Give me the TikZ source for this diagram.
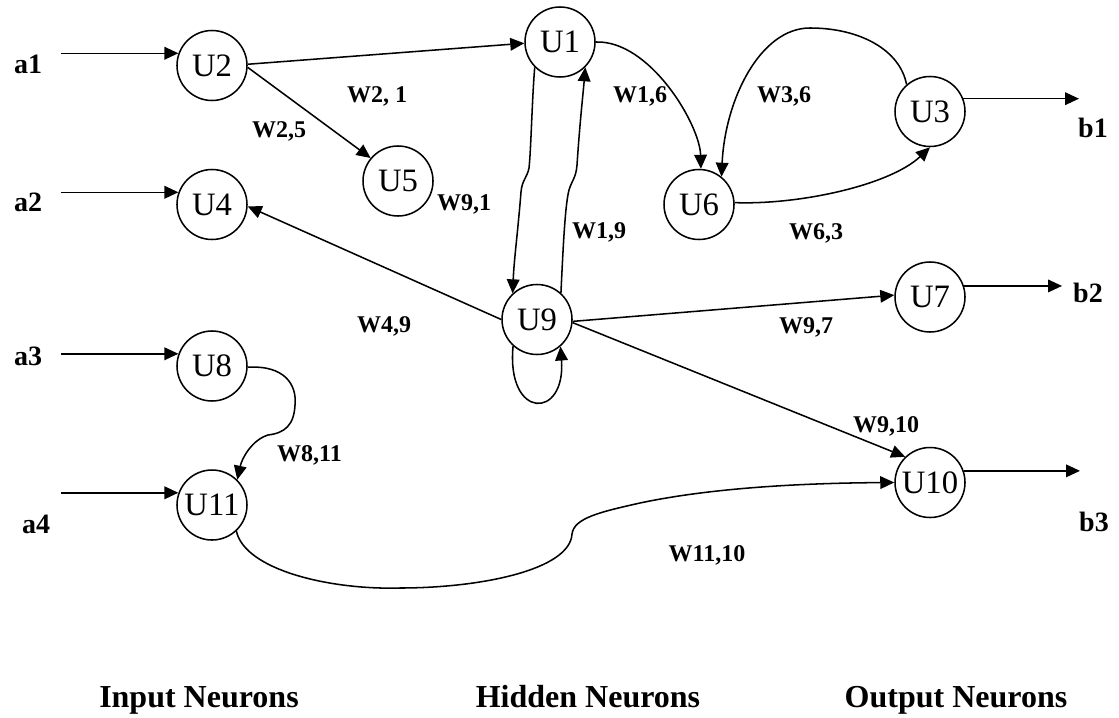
\documentclass[tikz,border=0pt]{standalone}
\usepackage{fontspec}
\setmainfont{Liberation Serif}
\usetikzlibrary{arrows.meta}
\begin{document}
\begin{tikzpicture}[x=0.75pt,y=-0.75pt,
  neuron/.style={draw,circle,line width=1.15pt,minimum size=52.5pt,inner sep=0pt,font=\fontsize{24.5}{26}\selectfont},
  conn/.style={line width=1.15pt,-{Triangle[length=10.5pt,width=9.5pt]}},
  wlab/.style={font=\fontsize{18}{20}\selectfont\bfseries,inner sep=0pt,text depth=0pt},
  iolab/.style={font=\fontsize{21}{24}\selectfont\bfseries,inner sep=0pt,text depth=0pt},
  caplab/.style={font=\fontsize{24}{26}\selectfont\bfseries,inner sep=0pt,anchor=base}]
\useasboundingbox (0,0) rectangle (1119,717);

% neurons
\node[neuron] (U2) at (212,65.5) {U2};
\node[neuron] (U4) at (212,204.5) {U4};
\node[neuron] (U8) at (212,366) {U8};
\node[neuron] (U11) at (212,505) {U11};
\node[neuron] (U5) at (398,181) {U5};
\node[neuron] (U1) at (560,42) {U1};
\node[neuron] (U9) at (537,319.5) {U9};
\node[neuron] (U6) at (699,204.5) {U6};
\node[neuron] (U3) at (930,111.5) {U3};
\node[neuron] (U7) at (930,297) {U7};
\node[neuron] (U10) at (930,482.5) {U10};

% input / output labels
\node[iolab] (la1) at (28,64) {a1};
\node[iolab] (la2) at (28,202) {a2};
\node[iolab] (la3) at (28,356) {a3};
\node[iolab] (la4) at (36,524) {a4};
\node[iolab] (lb1) at (1093,128) {b1};
\node[iolab] (lb2) at (1088,293) {b2};
\node[iolab] (lb3) at (1094,522) {b3};

% input arrows
\coordinate (inx) at (61,0);
\draw[conn] (U2.160 -| inx) -- (U2.160);
\draw[conn] (U4.160 -| inx) -- (U4.160);
\draw[conn] (U8.160 -| inx) -- (U8.160);
\draw[conn] (U11.160 -| inx) -- (U11.160);

% output arrows
\coordinate (o1) at (1079,0);
\coordinate (o2) at (1062,0);
\coordinate (o3) at (1080,0);
\draw[conn] (U3.21) -- (U3.21 -| o1);
\draw[conn] (U7.18) -- (U7.18 -| o2);
\draw[conn] (U10.19) -- (U10.19 -| o3);

% connections
\draw[conn] (U2.2) -- (U1.182);
\draw[conn] (U2.-3) -- (U5.140);
\draw[conn] (U9.180) -- (U4.-3);
\draw[conn] (U1.225) .. controls (532,100) and (531,150) .. (529,168)
  .. controls (527,178) and (522,180) .. (521,192)
  .. controls (518,230) and (514,260) .. (U9.133);
\draw[conn] (U9.48) .. controls (563,250) and (565,205) .. (569,190)
  .. controls (572,180) and (576,178) .. (577,165)
  .. controls (580,120) and (583,95) .. (U1.-45);
\draw[conn] (U9.-132) .. controls (506,420) and (566,420) .. (U9.-49);
\draw[conn] (U1.0) .. controls (650,40) and (700,125) .. (U6.87);
\draw[conn] (U3.131) .. controls (900,50) and (860,28) .. (810,28)
  .. controls (760,28) and (725,100) .. (U6.51);
\draw[conn] (U6.3) .. controls (800,205) and (890,185) .. (U3.-90);
\draw[conn] (U9.-3) -- (U7.177);
\draw[conn] (U9.-5) -- (U10.134);
\draw[conn] (U8.-2) .. controls (285,365) and (297,385) .. (295,405)
  .. controls (294,425) and (285,433) .. (268,435)
  .. controls (252,440) and (242,458) .. (U11.45);
\draw[conn] (U11.-47) .. controls (245,570) and (330,590) .. (400,588)
  .. controls (480,588) and (570,570) .. (572,534)
  .. controls (574,518) and (600,512) .. (640,503)
  .. controls (720,486) and (820,483) .. (U10.180);

% weight labels
\node[wlab] (w21) at (377,95) {W2, 1};
\node[wlab] (w25) at (279,130) {W2,5};
\node[wlab] (w91) at (464,202.5) {W9,1};
\node[wlab] (w16) at (640,95) {W1,6};
\node[wlab] (w36) at (784,95) {W3,6};
\node[wlab] (w19) at (599,230.5) {W1,9};
\node[wlab] (w63) at (816,232) {W6,3};
\node[wlab] (w49) at (384,325) {W4,9};
\node[wlab] (w97) at (806,326) {W9,7};
\node[wlab] (w811) at (309.5,454) {W8,11};
\node[wlab] (w910) at (886,425) {W9,10};
\node[wlab] (w1110) at (707,554) {W11,10};

% captions
\node[caplab] (cin) at (199,707) {Input Neurons};
\node[caplab] (chid) at (588,707) {Hidden Neurons};
\node[caplab] (cout) at (956,707) {Output Neurons};
\end{tikzpicture}
\end{document}
